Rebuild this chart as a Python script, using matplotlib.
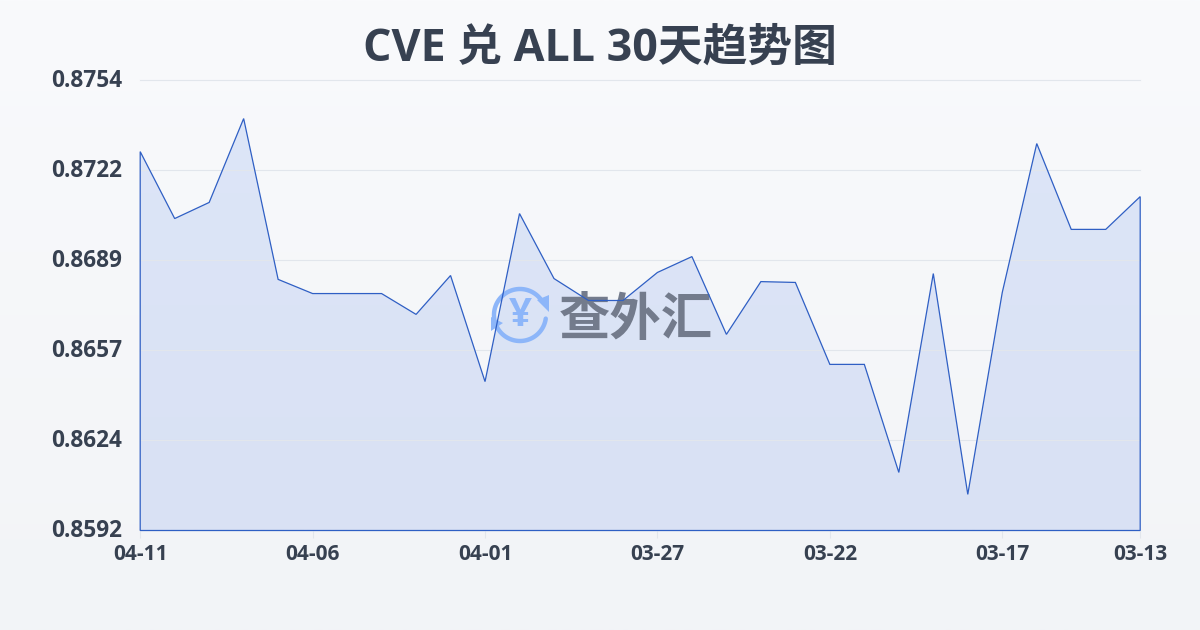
"""CVE / ALL 30-day trend chart."""
import numpy as np
import matplotlib
matplotlib.use("Agg")
import matplotlib.pyplot as plt
from matplotlib.colors import LinearSegmentedColormap
from matplotlib.patches import Polygon
from matplotlib.transforms import Affine2D

# Data (newest day on the left)
VALUES = [
    0.87284, 0.87043, 0.87101, 0.87403, 0.86824, 0.86773, 0.86773, 0.86773,
    0.86698, 0.86838, 0.86456, 0.87061, 0.86827, 0.86748, 0.86748, 0.86849,
    0.86906, 0.86626, 0.86816, 0.86813, 0.86518, 0.86518, 0.86129, 0.86845,
    0.86050, 0.86777, 0.87313, 0.87004, 0.87004, 0.87122,
]
XTICK_POS = [0, 5, 10, 15, 20, 25, 29]
XTICK_LABELS = ["04-11", "04-06", "04-01", "03-27", "03-22", "03-17", "03-13"]
YTICKS = [0.8592, 0.86244, 0.86568, 0.86892, 0.87216, 0.8754]
YTICK_LABELS = ["0.8592", "0.8624", "0.8657", "0.8689", "0.8722", "0.8754"]
TITLE = "CVE 兑 ALL 30天趋势图"
WATERMARK = "查外汇"

# Colors
C_TEXT = "#374151"
C_LINE = "#2f5fc4"
C_GRID = "#e2e6ec"
C_LOGO = "#8db6f9"
C_MARK = "#737b8c"

FONTS = ["Open Sans", "Noto Sans CJK SC", "DejaVu Sans"]
W, H, DPI = 1200, 630, 100


def draw_background(fig):
    ax = fig.add_axes([0, 0, 1, 1], zorder=0)
    ax.axis("off")
    cmap = LinearSegmentedColormap.from_list("bg", ["#f9fafc", "#f2f4f7"])
    ax.imshow(np.linspace(0, 1, 256)[:, None], aspect="auto", cmap=cmap)


def draw_area(ax, x, y):
    """Area under the line, with its closed blue outline."""
    ymin = ax.get_ylim()[0]
    verts = [(x[0], ymin)] + list(zip(x, y)) + [(x[-1], ymin)]
    cmap = LinearSegmentedColormap.from_list("area", ["#dde6f8", "#d9e1f4"])
    img = ax.imshow(np.linspace(0, 1, 256)[:, None], aspect="auto", cmap=cmap,
                    extent=(x[0], x[-1], ymin, ax.get_ylim()[1]), zorder=1)
    clip = Polygon(verts, transform=ax.transData, facecolor="none", edgecolor="none")
    ax.add_patch(clip)
    img.set_clip_path(clip)
    ax.add_patch(Polygon(verts, closed=True, facecolor="none", edgecolor=C_LINE,
                         linewidth=0.9, zorder=5, clip_on=False))


def draw_watermark(ax):
    """Logo and site name, placed in image pixels."""
    px = Affine2D().scale(1, -1).translate(0, H)
    cx, cy, r = 520, 315, 26
    for start, end in [(190, 35), (-8, -158)]:
        t = np.radians(np.linspace(start, end, 60))
        ax.plot(cx + r * np.cos(t), cy - r * np.sin(t), color=C_LOGO, lw=3.2,
                solid_capstyle="round", transform=px, zorder=3, clip_on=False)
    for tri in ([(537, 300), (549, 295), (549, 312)], [(491, 317), (503, 323), (491, 331)]):
        ax.add_patch(Polygon(tri, closed=True, facecolor=C_LOGO, edgecolor="none",
                             transform=px, zorder=3, clip_on=False))
    ax.text(520, 315, "¥", color=C_LOGO, fontsize=29, fontweight="bold", family=FONTS,
            ha="center", va="center", transform=px, zorder=3, clip_on=False)
    ax.text(636, 319, WATERMARK, color=C_MARK, fontsize=37, fontweight=900,
            family=["Noto Sans CJK SC"], ha="center", va="center", transform=px,
            zorder=3, clip_on=False)


def main():
    plt.rcParams["font.family"] = FONTS
    fig = plt.figure(figsize=(W / DPI, H / DPI), dpi=DPI)
    draw_background(fig)

    ax = fig.add_axes([140.2 / W, 1 - 530.5 / H, 1000 / W, 450 / H], zorder=1)
    ax.patch.set_alpha(0)
    x = np.arange(len(VALUES))
    ax.set_xlim(0, len(VALUES) - 1)
    ax.set_ylim(YTICKS[0], YTICKS[-1])

    draw_area(ax, x, VALUES)
    ax.set_xlim(0, len(VALUES) - 1)
    ax.set_ylim(YTICKS[0], YTICKS[-1])
    draw_watermark(ax)

    for s in ax.spines.values():
        s.set_visible(False)
    ax.grid(True, axis="y", color=C_GRID, linewidth=0.8, zorder=2)
    ax.set_axisbelow(False)
    for line in ax.get_ygridlines():
        line.set_zorder(2)
        line.set_clip_on(False)

    ax.set_xticks(XTICK_POS, XTICK_LABELS, fontsize=15, fontweight="bold", color=C_TEXT)
    ax.set_yticks(YTICKS, YTICK_LABELS, fontsize=16.3, fontweight="bold", color=C_TEXT)
    ax.tick_params(axis="x", length=5, width=0.8, color="#e2e6ec", pad=5)
    ax.tick_params(axis="y", length=0, pad=13)
    # y labels sit a little above their gridlines
    for lab in ax.get_yticklabels():
        lab.set_transform(lab.get_transform() + Affine2D().translate(0, 2.5))

    fig.text(0.5, 1 - 49 / H, TITLE, ha="center", va="center", fontsize=32.2,
             fontweight="bold", color=C_TEXT)
    fig.savefig("out.png", dpi=DPI)
    plt.close(fig)


if __name__ == "__main__":
    main()
